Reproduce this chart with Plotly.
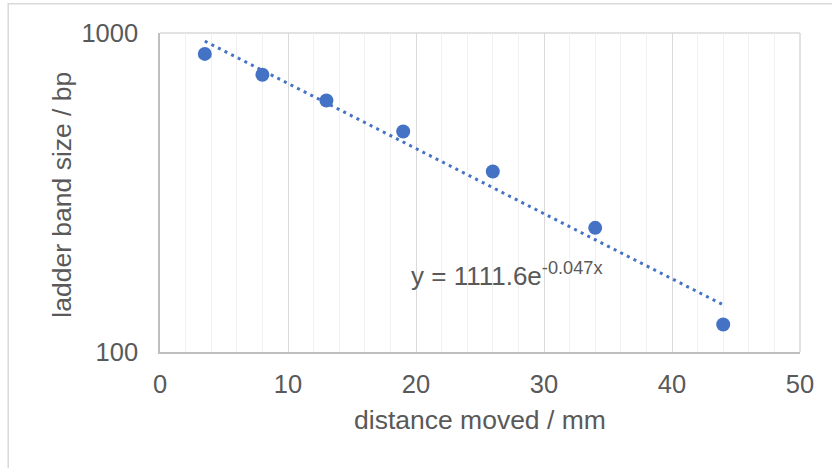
import numpy as np
import plotly.graph_objects as go

# data
distance_mm = [3.5, 8, 13, 19, 26, 34, 44]
band_bp = [860, 740, 614, 491, 368, 245, 122]
fit_a = 1111.6
fit_k = -0.047
x_ticks = [0, 10, 20, 30, 40, 50]
y_ticks = [100, 1000]

blue = "#4472C4"
txt = "#595959"
W, H = 832, 468
L, R, T, B = 160.3, 800.3, 33.3, 351.7

# trendline (exponential fit from the equation shown)
tx = np.linspace(min(distance_mm), max(distance_mm), 100)
ty = fit_a * np.exp(fit_k * tx)

fig = go.Figure()
fig.add_trace(go.Scatter(x=tx, y=ty, mode="lines",
                         line=dict(color=blue, width=3, dash="3px,4.4px"),
                         hoverinfo="skip", showlegend=False))
fig.add_trace(go.Scatter(x=distance_mm, y=band_bp, mode="markers",
                         marker=dict(color=blue, size=14, line=dict(width=0)),
                         showlegend=False))

fig.update_layout(
    width=W, height=H,
    margin=dict(l=L, r=W - R, t=T, b=H - B, pad=0),
    paper_bgcolor="white", plot_bgcolor="white",
    font=dict(family="Liberation Sans, Arial, sans-serif", color=txt),
    xaxis=dict(range=[0, 50], tickvals=x_ticks, showgrid=True,
               gridcolor="#d9d9d9", gridwidth=1.3,
               minor=dict(dtick=2, showgrid=True, gridcolor="#f0f0f0", gridwidth=1.3),
               showline=True, linecolor="#bfbfbf", linewidth=1.5,
               ticks="", tickfont=dict(size=25.5, color=txt),
               ticklabelstandoff=9, zeroline=False),
    yaxis=dict(type="log", range=[2, 3], tickvals=y_ticks,
               ticktext=[str(v) for v in y_ticks],
               showgrid=True, gridcolor="#d9d9d9", gridwidth=1.3,
               showline=True, linecolor="#bfbfbf", linewidth=1.5,
               ticks="", tickfont=dict(size=25.5, color=txt),
               ticklabelstandoff=15, zeroline=False),
    annotations=[
        dict(text="distance moved / mm", xref="paper", yref="paper",
             x=0.5, y=(B - 420) / (B - T), xanchor="center", yanchor="middle",
             showarrow=False, font=dict(size=26.5, color=txt)),
        dict(text="ladder band size / bp", xref="paper", yref="paper",
             x=(62 - L) / (R - L), y=(B - 195) / (B - T), textangle=-90,
             xanchor="center", yanchor="middle",
             showarrow=False, font=dict(size=26.5, color=txt)),
        dict(text="y = 1111.6e<sup>-0.047x</sup>", xref="paper", yref="paper",
             x=(409 - L) / (R - L), y=(B - 274) / (B - T),
             xanchor="left", yanchor="middle",
             showarrow=False, font=dict(size=26, color=txt)),
    ],
    shapes=[
        dict(type="rect", xref="paper", yref="paper",
             x0=(8.5 - L) / (R - L), x1=(845 - L) / (R - L),
             y0=(B - 480) / (B - T), y1=(B - 4) / (B - T),
             line=dict(color="#d9d9d9", width=1.5), fillcolor="rgba(0,0,0,0)",
             layer="below"),
        dict(type="line", xref="paper", yref="paper", x0=0, x1=1, y0=1, y1=1,
             line=dict(color="#d9d9d9", width=1.5), layer="below"),
        dict(type="line", xref="paper", yref="paper", x0=1, x1=1, y0=0, y1=1,
             line=dict(color="#d9d9d9", width=1.5), layer="below"),
    ],
)

fig.write_html("out.html", config={"displayModeBar": False},
               post_script="document.body.style.margin='0';document.body.style.overflow='hidden';")
